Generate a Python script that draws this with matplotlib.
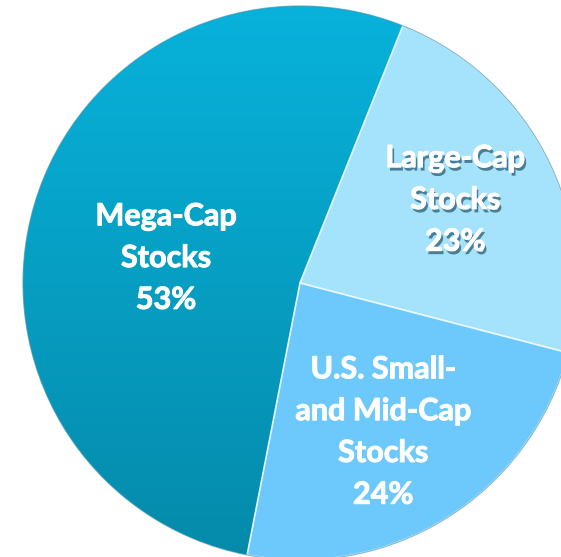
import numpy as np
import matplotlib.pyplot as plt
import matplotlib.patheffects as pe
from matplotlib.colors import LinearSegmentedColormap

labels = ['Mega-Cap\nStocks', 'Large-Cap\nStocks', 'U.S. Small-\nand Mid-Cap\nStocks']
shares = [53, 23, 24]
colors = ['#06A6CE', '#A5E2FB', '#6DC9FB']

plt.rcParams['font.family'] = ['Lato', 'DejaVu Sans']

fig = plt.figure(figsize=(5.61, 5.57), dpi=100)
ax = fig.add_axes([0, 0, 1, 1])

wedges, _ = ax.pie(shares, colors=colors, startangle=259, counterclock=False,
                   radius=1.0, wedgeprops=dict(edgecolor='#e8f7fc', linewidth=1.2))

# vertical gradient on the big slice
grad = np.linspace(0, 1, 256).reshape(-1, 1)
cmap = LinearSegmentedColormap.from_list('mega', ['#058AAA', '#08B2DB'])
im = ax.imshow(grad, cmap=cmap, extent=(-1, 1, -1, 1), origin='lower',
               aspect='auto', zorder=1.5)
im.set_clip_path(wedges[0])
wedges[0].set_zorder(1)
for w in wedges[1:]:
    w.set_zorder(2)

# thin outer rim
rim = plt.Circle((0, 0), 1.0, fill=False, edgecolor='#3d8fae', linewidth=0.8,
                 alpha=0.6, zorder=3)
ax.add_patch(rim)

pos = [(-0.484, 0.09), (0.56, 0.30), (0.30, -0.538)]
for i, (lab, v) in enumerate(zip(labels, shares)):
    t = ax.text(pos[i][0], pos[i][1], f'{lab}\n{v}%', ha='center', va='center',
                color='white', fontsize=22, fontweight='bold', linespacing=1.6,
                zorder=5)
    fx = [pe.withStroke(linewidth=0.7, foreground='white')]
    if i == 1:
        fx = [pe.withSimplePatchShadow(offset=(1.5, -2.5), shadow_rgbFace='#2d5d73',
                                       alpha=0.75)] + fx
    t.set_path_effects(fx)

ax.set_xlim(-300 / 277, 261 / 277)
ax.set_ylim(-274 / 277, 283 / 277)
ax.set_aspect('equal')
ax.axis('off')

plt.savefig('out.png', dpi=100)
